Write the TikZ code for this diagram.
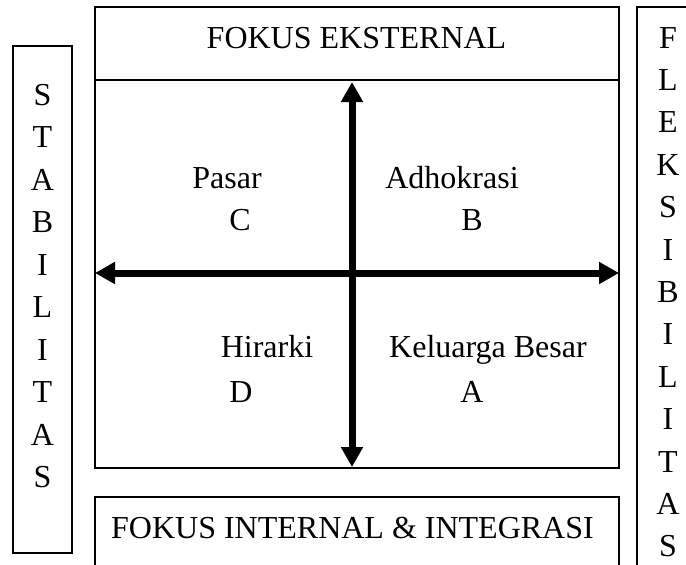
\documentclass[tikz,border=0pt]{standalone}
\usepackage{fontspec}
\setmainfont{Liberation Serif}
\usetikzlibrary{arrows.meta}
\begin{document}
\begin{tikzpicture}[x=1pt,y=-1pt,
  box/.style={draw, line width=1.4pt, inner sep=0pt, outer sep=0pt, anchor=north west},
  lbl/.style={font=\fontsize{32}{32}\selectfont, inner sep=0pt, anchor=base},
  axis/.style={line width=7pt, {Triangle[length=20pt,width=21pt]}-{Triangle[length=20pt,width=21pt]}}]
\useasboundingbox (0,0) rectangle (686,565);
\clip (0,0) rectangle (686,565);
% boxes
\node[box, minimum width=524pt, minimum height=73pt] (top) at (95,7) {};
\node[box, minimum width=524pt, minimum height=388pt] (main) at (95,80) {};
\node[box, minimum width=524pt, minimum height=76pt] (bottom) at (95,497) {};
\node[box, minimum width=59pt, minimum height=507pt] (left) at (13,46) {};
\node[box, minimum width=80pt, minimum height=600pt] (right) at (637,7) {};
% box titles
\node[lbl] (toptxt) at (356.5,48) {FOKUS EKSTERNAL};
\node[lbl] (bottxt) at (352.5,538) {FOKUS INTERNAL \& INTEGRASI};
% vertical words
\foreach \ch [count=\i from 0] in {S,T,A,B,I,L,I,T,A,S}
  \node[lbl] (st\i) at (42.5,{105+42.55*\i}) {\ch};
\foreach \ch [count=\i from 0] in {F,L,E,K,S,I,B,I,L,I,T,A,S}
  \node[lbl] (fl\i) at (668,{48+42.4*\i}) {\ch};
% quadrant labels
\node[lbl] (pasar) at (227,188) {Pasar};
\node[lbl] (c) at (240,230) {C};
\node[lbl] (adho) at (452,188) {Adhokrasi};
\node[lbl] (b) at (472,230) {B};
\node[lbl] (hir) at (267,357) {Hirarki};
\node[lbl] (d) at (241,402) {D};
\node[lbl] (kel) at (488,357) {Keluarga Besar};
\node[lbl] (a) at (472,402) {A};
% axes
\coordinate (vt) at (352,82);
\coordinate (vb) at (352,467);
\coordinate (hl) at (95,273);
\coordinate (hr) at (619,273);
\draw[axis] (vb) -- (vt);
\draw[axis] (hl) -- (hr);
\end{tikzpicture}
\end{document}
